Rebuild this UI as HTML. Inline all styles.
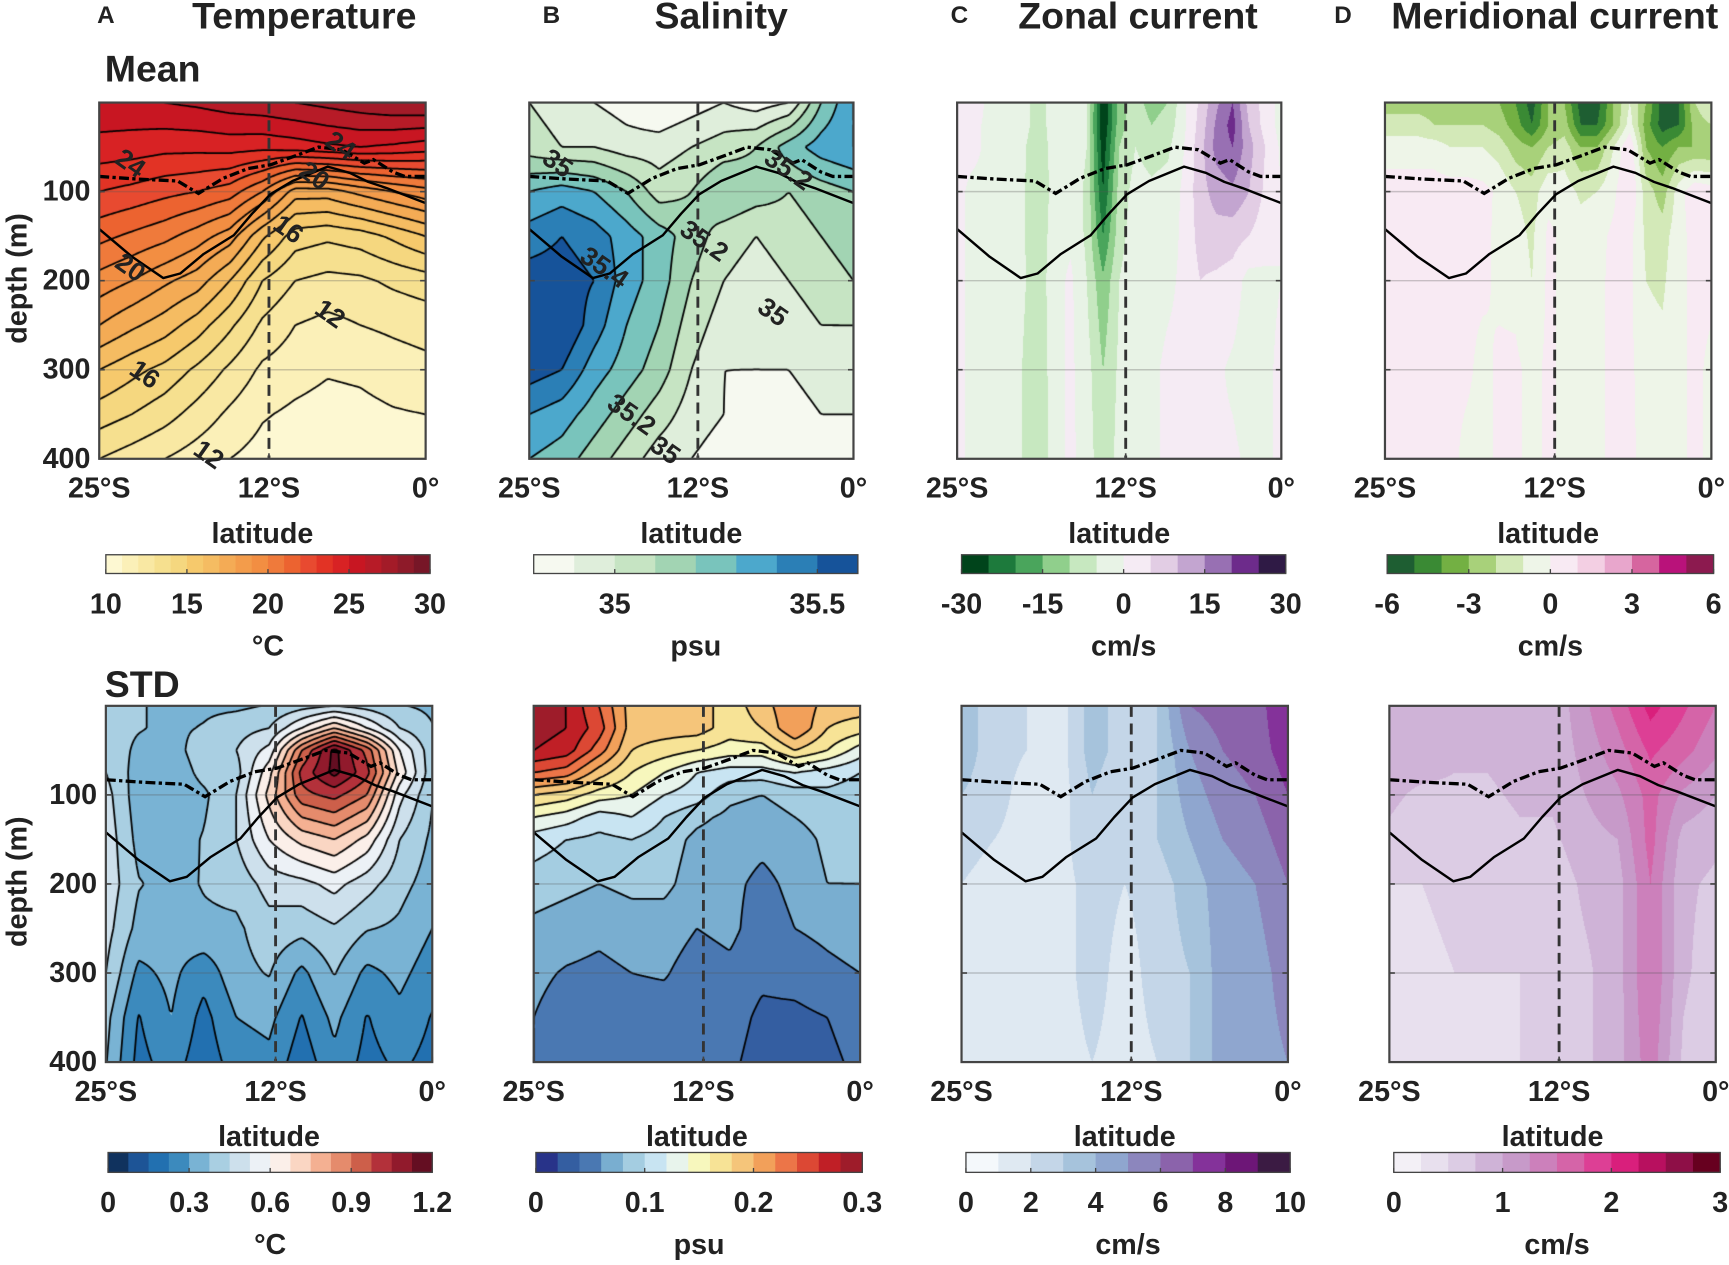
<!DOCTYPE html>
<html><head><meta charset="utf-8"><title>Ocean sections</title>
<style>
html,body{margin:0;padding:0;background:#fff;}
#wrap{position:relative;width:1729px;height:1265px;overflow:hidden;}
#cv{position:absolute;left:0;top:0;}
#sv{position:absolute;left:0;top:0;}
text{font-family:"Liberation Sans",Arial,sans-serif;fill:#222;}
</style></head>
<body>
<div id="wrap">
<canvas id="cv" width="1729" height="1265"></canvas>
<svg id="sv" width="1729" height="1265" viewBox="0 0 1568 1147" preserveAspectRatio="none"></svg>
</div>
<script>
// ---------- shared grids ----------
const lat11 = [-25,-22.5,-20,-17.5,-15,-12.5,-10,-7.5,-5,-2.5,0];
const lat21 = [-25,-23.75,-22.5,-21.25,-20,-18.75,-17.5,-16.25,-15,-13.75,-12.5,-11.25,-10,-8.75,-7.5,-6.25,-5,-3.75,-2.5,-1.25,0];
const depthT = [0,50,100,150,200,250,300,350,400];
const depthUV = [0,25,50,100,150,200,300,400];
const depthStdT = [0,25,50,75,100,150,200,250,300,350,400];
const depthStdS = [0,25,50,75,100,125,150,200,250,300,350,400];
const depth7 = [0,50,100,150,200,300,400];

// ---------- Mean temperature (°C) ----------
const tempMean = [
 [25.8,25.8,26,26.2,26.5,26.7,27,27.3,27.6,27.9,28],
 [24.6,24.5,24.3,24.3,24.4,24.3,24.5,24.8,25,24.8,24.5],
 [23,22.7,22.3,22,21.5,20,17.5,17.5,18.3,19,19.6],
 [21.3,20.8,20.3,19.5,18.5,16.2,14.5,14.2,14.5,15.2,16],
 [19.6,19,18.2,17.5,16,14,13,12.7,12.8,13.2,13.5],
 [18,17.2,16.5,15.5,14.2,12.8,12,11.7,12,12.2,12.4],
 [16,15.3,14.7,13.8,12.8,11.8,11.4,11.1,11.2,11.5,11.7],
 [14.5,14,13.4,12.6,11.8,11.1,10.8,10.6,10.7,10.9,11],
 [13,12.5,12,11.5,11,10.6,10.3,10.1,10.3,10.5,10.6]];
const tempColors = ['#fdf8d2','#fbf0b8','#f9e8a3','#f6e08f','#f5d77f','#f6c96c','#f5bc62','#f4ab55','#f39c4b','#f28e42','#ef7a3b','#ec6330','#e84a30','#e23325','#d82224','#c81622','#b71b27','#a31b28','#8e1a29','#771627'];
const tempTicks = [10,15,20,25,30];

// ---------- Mean salinity (psu) ----------
const salMean = [
 [35.0,34.95,34.9,34.85,34.8,34.85,34.9,34.85,34.9,35.2,35.4],
 [35.05,35.0,35.0,34.95,34.95,35.0,35.05,35.1,35.25,35.35,35.4],
 [35.3,35.35,35.3,35.2,35.05,35.1,35.2,35.15,35.1,35.15,35.2],
 [35.45,35.5,35.45,35.35,35.25,35.15,35.05,35.0,35.05,35.1,35.15],
 [35.55,35.55,35.5,35.35,35.25,35.1,35.0,34.95,35.0,35.05,35.1],
 [35.55,35.6,35.45,35.3,35.2,35.05,34.95,34.9,34.95,35.0,35.0],
 [35.55,35.5,35.35,35.25,35.15,35.0,34.9,34.9,34.9,34.95,34.95],
 [35.4,35.35,35.25,35.15,35.05,34.95,34.9,34.85,34.85,34.9,34.9],
 [35.3,35.25,35.15,35.05,34.95,34.9,34.85,34.82,34.82,34.85,34.85]];
const salColors = ['#f6f9f0','#dfeedb','#c6e4c3','#a2d4b3','#79c4bc','#4ca8cc','#2b7fb6','#16539a'];
const salTicks = [35,35.5];

// ---------- Mean zonal current (cm/s) ----------
const uMean = [
 [2,2,-1,-1,-3,-7,-3,-2,-4,-30,-12,-8,-12,-10,-1,6,14,20,8,3,-2],
 [2,1,-1,-1,-3,-7,-3,-2,-5,-30,-12,-7,-10,-8,-1,7,16,22,10,3,-2],
 [1,1,-1,-1,-4,-8,-3,-2,-5,-28,-10,-5,-7,-6,0,8,17,20,12,5,-1],
 [1,-1,-1,-1,-4,-9,-3,-2,-6,-25,-8,-3,-4,-3,1,8,12,14,10,4,0],
 [1,-1,-1,-1,-4,-9,-2,-1,-6,-20,-7,-2,-3,-2,1,7,8,7,5,2,0],
 [1,-1,-1,-1,-4,-8,-2,1,-5,-14,-5,-1,-2,-1,1,5,4,3,-2,-1,0],
 [1,-1,-1,-1,-5,-9,-2,1,-3,-10,-4,-1,-1,1,1,2,1,-1,-3,-1,1],
 [1,-1,-1,-1,-5,-10,-2,1,-2,-9,-3,-1,-1,1,1,1,1,1,-1,-1,1]];
const uColors = ['#00441b','#1d7a3c','#4aa55c','#90cf8c','#c7e8c0','#e8f3e6','#f5ebf4','#e2cde4','#c3a5d0','#9870b3','#6d2b8b','#2f1a45'];
const uTicks = [-30,-15,0,15,30];

// ---------- Mean meridional current (cm/s) ----------
const vMean = [
 [-2.5,-2.5,-2.5,-2.5,-3,-3,-2.5,-3,-4,-5.5,-3,-3,-5.5,-5.5,-3,-1,-3,-5.5,-5,-2,-1],
 [-1.5,-1.5,-1.5,-2,-2,-2,-2,-2.5,-3.5,-5,-3,-2.5,-5,-5,-3,-0.5,-3.5,-5.5,-5,-2.5,-2],
 [-0.5,-0.5,-0.5,-0.5,-1,-1,-1,-1.5,-2.5,-3,-2,-1.5,-3,-3,-1,1,-3,-4,-3,-3,-3],
 [0.5,0.5,0.5,0.5,0.5,0.5,0.3,-0.2,-1,-1.5,-0.3,-0.5,-1.2,-1,-0.2,1,-1.5,-2.5,-0.5,0.8,0.5],
 [0.5,0.5,0.5,0.5,0.5,0.3,0.2,-0.2,-0.5,-1.2,0.2,-0.2,-0.5,-0.3,0.2,0.3,-1.2,-1.5,-0.3,0.3,0.3],
 [0.5,0.5,0.5,0.3,0.3,0.2,0.2,-0.2,-0.3,-1,0.2,-0.2,-0.3,-0.2,0.2,0.2,-1,-1.2,-0.2,0.2,0.2],
 [0.5,0.5,0.5,0.3,0.3,0.2,-0.3,0.2,0.2,-0.3,0.2,-0.2,-0.2,-0.2,0.2,0.2,-0.5,-0.6,-0.2,0.2,-0.2],
 [0.5,0.5,0.5,0.3,0.3,-0.3,-0.3,0.2,0.2,-0.3,0.2,-0.2,-0.2,-0.2,0.2,0.2,-0.3,-0.3,-0.2,0.2,-0.2]];
const vColors = ['#1e5e32','#3a8a34','#73b043','#a8d17a','#d3e9b8','#eef5e8','#f8eaf3','#f3cfe3','#e8a6cc','#d6659f','#b9127a','#8c1a4f'];
const vTicks = [-6,-3,0,3,6];

// ---------- STD temperature ----------
const tempStd = [
 [.40,.38,.36,.36,.36,.38,.42,.45,.42,.38,.36],
 [.40,.38,.36,.38,.42,.45,.60,.75,.60,.45,.38],
 [.42,.36,.34,.42,.45,.55,.90,1.15,.95,.60,.40],
 [.45,.34,.32,.40,.42,.65,1.00,1.15,1.00,.65,.40],
 [.48,.33,.32,.36,.45,.70,.95,1.00,.90,.55,.38],
 [.50,.35,.34,.38,.45,.60,.70,.75,.65,.45,.36],
 [.50,.38,.35,.38,.40,.48,.50,.55,.48,.40,.34],
 [.48,.35,.33,.36,.36,.42,.40,.44,.38,.36,.30],
 [.45,.28,.32,.25,.35,.38,.28,.38,.28,.32,.26],
 [.40,.22,.30,.20,.30,.32,.22,.32,.22,.28,.22],
 [.38,.20,.26,.18,.26,.28,.18,.28,.20,.24,.20]];
const tempStdColors = ['#10325e','#1d5496','#2270b0','#3c8abd','#79b3d4','#a9cfe2','#cde0ec','#ecf1f6','#fbefe9','#fad6c3','#f4b092','#e58b6c','#cd5f4a','#b3313a','#911a2c','#640e22'];
const tempStdTicks = [0,0.3,0.6,0.9,1.2];

// ---------- STD salinity ----------
const salStd = [
 [.29,.28,.24,.19,.19,.19,.17,.19,.22,.19,.19],
 [.29,.28,.25,.19,.19,.19,.17,.18,.22,.18,.17],
 [.28,.27,.23,.18,.17,.16,.15,.15,.18,.16,.13],
 [.24,.23,.19,.16,.14,.12,.11,.11,.12,.11,.10],
 [.18,.17,.15,.14,.12,.11,.085,.08,.09,.095,.09],
 [.14,.13,.11,.12,.10,.085,.075,.07,.08,.09,.088],
 [.11,.10,.095,.10,.09,.075,.07,.065,.07,.085,.085],
 [.09,.085,.08,.085,.085,.07,.065,.055,.065,.08,.08],
 [.075,.07,.065,.07,.07,.06,.065,.05,.06,.065,.07],
 [.065,.058,.055,.06,.062,.05,.055,.045,.048,.055,.06],
 [.06,.05,.045,.05,.05,.045,.05,.035,.035,.04,.05],
 [.06,.048,.045,.048,.045,.045,.045,.03,.03,.035,.045]];
const salStdColors = ['#283389','#345ea1','#4a78b2','#79aed0','#a4cde1','#c8e4f2','#e8f4ec','#f7f7bd','#f7e396','#f5c57a','#f2a05a','#ec7548','#dc4834','#c01f26','#9e1c2a'];
const salStdTicks = [0,0.1,0.2,0.3];

// ---------- STD zonal current ----------
const uStd = [
 [3.5,2.5,2,1.5,3.5,2.5,3,6,6.5,6.5,8],
 [3.5,2.5,2,1.5,3.5,2.5,3,5,6,6.5,7.5],
 [3,2.5,1.5,1.5,3,2,3,4.5,5.5,6,7],
 [2.5,2,1.5,1.5,3,2,3,4,5,5.5,6.5],
 [2,1.5,1.5,1.5,2.5,2,2.5,3.5,4.5,5,6],
 [1.5,1.5,1,1.5,2.5,1.5,2.5,3,4.5,4.5,5.5],
 [1.5,1.5,1,1.5,2,1.5,2,3,4.5,4.5,5]];
const uStdColors = ['#f4f8fb','#dfe9f2','#c4d6e8','#a6c3dc','#8fa6cf','#8c86bd','#8b63ab','#84329a','#6d1677','#3b1b43'];
const uStdTicks = [0,2,4,6,8,10];

// ---------- STD meridional current ----------
const vStd = [
 [1.0,1.0,0.9,0.9,0.9,0.8,1.2,1.6,2.1,1.8,1.5],
 [0.9,0.9,0.8,0.8,0.9,0.8,1.1,1.4,1.8,1.6,1.3],
 [0.8,0.7,0.7,0.7,0.8,0.8,1.0,1.2,1.6,1.2,1.0],
 [0.7,0.6,0.6,0.6,0.7,0.7,0.9,1.0,1.6,0.9,0.8],
 [0.5,0.5,0.6,0.6,0.6,0.6,0.8,0.9,1.5,0.8,0.7],
 [0.4,0.4,0.5,0.5,0.5,0.6,0.7,0.9,1.5,0.8,0.6],
 [0.3,0.4,0.5,0.4,0.5,0.6,0.7,0.9,1.4,0.7,0.5]];
const vStdColors = ['#f3f0f6','#e8e0ee','#dccce4','#cfb3d7','#c79ac9','#cc80bb','#d564a8','#dd3f95','#d91f7c','#b8105f','#8e0f47','#67001f'];
const vStdTicks = [0,1,2,3];

// ---------- overlay lines ----------
const mldLat = [-25,-22,-19,-17.4,-15.5,-13.6,-11.9,-10,-8.2,-6.4,-4.7,-4,-2.5,-1.6,0];
const mldDepth = [83,86,88,102,85,74,70,60,50,53,68,64,78,83,83];
const thermoLat = [-25,-22.5,-20.1,-18.8,-17,-14.7,-13.3,-11.9,-10.2,-7.5,-5.8,-4.4,-3,0];
const thermoDepth = [142,173,197,192,170,149,125,103,88,72,79,89,96,113];
const latTicks = [-25,-12,0];
const latTickLabels = ['25°S','12°S','0°'];
const depthTicks = [100,200,300,400];

// ---------- panel definitions ----------
const TOP = [93,416], BOT = [640,963];
const panels = [
 {id:'temp-mean', x:[90,386], y:TOP, lat:lat11, dep:depthT, v:tempMean, min:10, step:1, colors:tempColors, contour:true, yLabels:true,
  cb:{x:[96,390], y:[503,520], ticks:tempTicks, unit:'°C', fmt:v=>String(v)}},
 {id:'sal-mean', x:[480,774], y:TOP, lat:lat11, dep:depthT, v:salMean, min:34.8, step:0.1, colors:salColors, contour:true,
  cb:{x:[484,778], y:[503,520], ticks:salTicks, unit:'psu', fmt:v=>String(v)}},
 {id:'zonal-mean', x:[868,1162], y:TOP, lat:lat21, dep:depthUV, v:uMean, min:-30, step:5, colors:uColors, contour:false,
  cb:{x:[872,1166], y:[503,520], ticks:uTicks, unit:'cm/s', fmt:v=>String(v)}},
 {id:'meridional-mean', x:[1256,1552], y:TOP, lat:lat21, dep:depthUV, v:vMean, min:-6, step:1, colors:vColors, contour:false,
  cb:{x:[1258,1554], y:[503,520], ticks:vTicks, unit:'cm/s', fmt:v=>String(v)}},
 {id:'temp-std', x:[96,392], y:BOT, lat:lat11, dep:depthStdT, v:tempStd, min:0, step:0.075, colors:tempStdColors, contour:true, yLabels:true,
  cb:{x:[98,392], y:[1045,1063], ticks:tempStdTicks, unit:'°C', fmt:v=>String(v)}},
 {id:'sal-std', x:[484,780], y:BOT, lat:lat11, dep:depthStdS, v:salStd, min:0, step:0.02, colors:salStdColors, contour:true,
  cb:{x:[486,782], y:[1045,1063], ticks:salStdTicks, unit:'psu', fmt:v=>String(v)}},
 {id:'zonal-std', x:[872,1168], y:BOT, lat:lat11, dep:depth7, v:uStd, min:0, step:1, colors:uStdColors, contour:false,
  cb:{x:[876,1170], y:[1045,1063], ticks:uStdTicks, unit:'cm/s', fmt:v=>String(v)}},
 {id:'meridional-std', x:[1260,1556], y:BOT, lat:lat11, dep:depth7, v:vStd, min:0, step:0.25, colors:vStdColors, contour:false,
  cb:{x:[1264,1560], y:[1045,1063], ticks:vStdTicks, unit:'cm/s', fmt:v=>String(v)}}
];

const SX = 1729/1568, SY = 1265/1147;
function xScale(p, lat){ return p.x[0] + (lat+25)/25*(p.x[1]-p.x[0]); }
function yScale(p, d){ return p.y[0] + d/400*(p.y[1]-p.y[0]); }
function locate(arr, x){
  let i=0; while(i<arr.length-2 && x>arr[i+1]) i++;
  let t=(x-arr[i])/(arr[i+1]-arr[i]); t=Math.max(0,Math.min(1,t)); return [i,t];
}
function sample(p, lat, d){
  const [i,tx]=locate(p.lat,lat), [j,ty]=locate(p.dep,d);
  const v=p.v;
  const a=v[j][i]*(1-tx)+v[j][i+1]*tx, b=v[j+1][i]*(1-tx)+v[j+1][i+1]*tx;
  return a*(1-ty)+b*ty;
}
function hex(c){ return [parseInt(c.substr(1,2),16),parseInt(c.substr(3,2),16),parseInt(c.substr(5,2),16)]; }

// ---------- canvas fields ----------
const cv=document.getElementById('cv'), ctx=cv.getContext('2d');
ctx.fillStyle='#fff'; ctx.fillRect(0,0,1729,1265);
const img=ctx.getImageData(0,0,1729,1265), D=img.data;
panels.forEach(p=>{
  const rgb=p.colors.map(hex);
  const dx0=Math.round(p.x[0]*SX), dx1=Math.round(p.x[1]*SX), dy0=Math.round(p.y[0]*SY), dy1=Math.round(p.y[1]*SY);
  for(let py=dy0; py<dy1; py++){
    const d=((py+0.5)/SY-p.y[0])/(p.y[1]-p.y[0])*400;
    for(let px=dx0; px<dx1; px++){
      const lat=((px+0.5)/SX-p.x[0])/(p.x[1]-p.x[0])*25-25;
      const val=sample(p,lat,d);
      let b=Math.floor((val-p.min)/p.step+1e-9); b=Math.max(0,Math.min(rgb.length-1,b));
      const k=(py*1729+px)*4, c=rgb[b];
      D[k]=c[0]; D[k+1]=c[1]; D[k+2]=c[2]; D[k+3]=255;
    }
  }
});
ctx.putImageData(img,0,0);

// contours (marching squares)
ctx.save(); ctx.scale(SX,SY);
panels.filter(p=>p.contour).forEach(p=>{
  const res=2, nx=Math.ceil((p.x[1]-p.x[0])/res), ny=Math.ceil((p.y[1]-p.y[0])/res);
  const G=[];
  for(let j=0;j<=ny;j++){ const row=[]; const d=Math.min(400,j*res/(p.y[1]-p.y[0])*400);
    for(let i=0;i<=nx;i++){ const lat=Math.min(0,i*res/(p.x[1]-p.x[0])*25-25); row.push(sample(p,lat,d)); } G.push(row); }
  ctx.strokeStyle='#000'; ctx.lineWidth=1.6;
  ctx.save(); ctx.beginPath(); ctx.rect(p.x[0],p.y[0],p.x[1]-p.x[0],p.y[1]-p.y[0]); ctx.clip();
  ctx.beginPath();
  for(let L=1; L<p.colors.length; L++){
    const lev=p.min+L*p.step;
    for(let j=0;j<ny;j++) for(let i=0;i<nx;i++){
      const v0=G[j][i], v1=G[j][i+1], v2=G[j+1][i+1], v3=G[j+1][i];
      const X0=p.x[0]+i*res, Y0=p.y[0]+j*res;
      const pts=[];
      const edge=(a,b,ax,ay,bx,by)=>{ if((a<lev)!==(b<lev)){ const t=(lev-a)/(b-a); pts.push([ax+(bx-ax)*t, ay+(by-ay)*t]); } };
      edge(v0,v1,X0,Y0,X0+res,Y0);
      edge(v1,v2,X0+res,Y0,X0+res,Y0+res);
      edge(v2,v3,X0+res,Y0+res,X0,Y0+res);
      edge(v3,v0,X0,Y0+res,X0,Y0);
      for(let k=0;k+1<pts.length;k+=2){ ctx.moveTo(pts[k][0],pts[k][1]); ctx.lineTo(pts[k+1][0],pts[k+1][1]); }
    }
  }
  ctx.stroke(); ctx.restore();
});
ctx.restore();

// ---------- SVG overlay ----------
const NS='http://www.w3.org/2000/svg', svg=document.getElementById('sv');
function mk(tag, attrs, parent){ const e=document.createElementNS(NS,tag); for(const k in attrs) e.setAttribute(k,attrs[k]); (parent||svg).appendChild(e); return e; }
function txt(s, x, y, size, anchor, weight, parent){ const t=mk('text',{x:x,y:y,'font-size':size,'text-anchor':anchor||'middle','font-weight':weight||'bold','dominant-baseline':'central'},parent); t.textContent=s; return t; }

panels.forEach((p,idx)=>{
  const g=mk('g',{});
  
  
  depthTicks.slice(0,3).forEach(d=>{
    const l=mk('line',{x1:p.x[0],x2:p.x[1],y1:yScale(p,d),y2:yScale(p,d),stroke:'#555','stroke-opacity':0.3,'stroke-width':1.3},g);
    
    
  });
  const vl=mk('line',{x1:xScale(p,-12),x2:xScale(p,-12),y1:p.y[0],y2:p.y[1],stroke:'#333','stroke-width':2.6,'stroke-dasharray':'10 6'},g);
  
  
  const tp=thermoLat.map((la,i)=>(i?'L':'M')+xScale(p,la).toFixed(1)+','+yScale(p,thermoDepth[i]).toFixed(1)).join(' ');
  const tl=mk('path',{d:tp,fill:'none',stroke:'#000','stroke-width':2.2,'stroke-linejoin':'round'},g);
  
  
  const mp=mldLat.map((la,i)=>(i?'L':'M')+xScale(p,la).toFixed(1)+','+yScale(p,mldDepth[i]).toFixed(1)).join(' ');
  const ml=mk('path',{d:mp,fill:'none',stroke:'#000','stroke-width':3,'stroke-dasharray':'9 3 3 3'},g);
  
  
  const bx=mk('rect',{x:p.x[0],y:p.y[0],width:p.x[1]-p.x[0],height:p.y[1]-p.y[0],fill:'none',stroke:'#444','stroke-width':2},g);
  
  
  latTicks.forEach((la,i)=>{
    const X=xScale(p,la);
    mk('line',{x1:X,x2:X,y1:p.y[1],y2:p.y[1]-5,stroke:'#444','stroke-width':1.5},g);
    const t=txt(latTickLabels[i], X, p.y[1]+27, 26, 'middle', 'bold', g);
    
    
  });
  depthTicks.forEach(d=>{
    const Y=yScale(p,d);
    mk('line',{x1:p.x[0],x2:p.x[0]+5,y1:Y,y2:Y,stroke:'#444','stroke-width':1.5},g);
    mk('line',{x1:p.x[1],x2:p.x[1]-5,y1:Y,y2:Y,stroke:'#444','stroke-width':1.5},g);
    if(p.yLabels){
      const t=txt(String(d), p.x[0]-8, Y, 26, 'end', 'bold', g);
      
      
    }
  });
  const xt=txt('latitude', (p.x[0]+p.x[1])/2, p.y[1]+68, 26, 'middle', 'bold', g);
  
  
  if(p.yLabels){
    const yt=txt('depth (m)', 0, 0, 26, 'middle', 'bold', g);
    yt.setAttribute('transform','translate(16,'+((p.y[0]+p.y[1])/2-2)+') rotate(-90)');
    
    
  }
  const cb=p.cb, n=p.colors.length, w=(cb.x[1]-cb.x[0])/n;
  const cg=mk('g',{},g);
  
  
  p.colors.forEach((c,i)=>{
    const r=mk('rect',{x:cb.x[0]+i*w,y:cb.y[0],width:w+0.5,height:cb.y[1]-cb.y[0],fill:c},cg);
    
    
  });
  mk('rect',{x:cb.x[0],y:cb.y[0],width:cb.x[1]-cb.x[0],height:cb.y[1]-cb.y[0],fill:'none',stroke:'#444','stroke-width':1.2},cg);
  const vmax=p.min+n*p.step;
  cb.ticks.forEach(v=>{
    const X=cb.x[0]+(v-p.min)/(vmax-p.min)*(cb.x[1]-cb.x[0]);
    mk('line',{x1:X,x2:X,y1:cb.y[1],y2:cb.y[1]-4,stroke:'#444','stroke-width':1.2},cg);
    const t=txt(cb.fmt(v), X, cb.y[1]+28, 26, 'middle', 'bold', cg);
    
    
  });
  const ut=txt(cb.unit, (cb.x[0]+cb.x[1])/2, cb.y[1]+66, 26, 'middle', 'bold', cg);
  
  
});

[['A',96,'Temperature',276],['B',500,'Salinity',654],['C',870,'Zonal current',1032],['D',1218,'Meridional current',1410]].forEach(a=>{
  const l=txt(a[0], a[1], 14, 22, 'middle', 'bold');
  
  
  const t=txt(a[2], a[3], 14, 34, 'middle', 'bold');
  
  
});
const m=txt('Mean', 95, 62, 34, 'start', 'bold');


const s=txt('STD', 95, 620, 34, 'start', 'bold');



const tLabelText = ['24','24','20','16','12','20','16','12'];
const tLabelLat = [-22.6,-6.5,-8.5,-10.5,-7.3,-22.6,-21.5,-16.6];
const tLabelDep = [68,48,82,142,237,185,305,395];
const sLabelText = ['35','35.2','35.2','35.4','35','35.2','35'];
const sLabelLat = [-22.8,-5,-11.5,-19.2,-6.2,-17.1,-14.5];
const sLabelDep = [68,75,155,185,235,350,390];
function contourLabels(p, texts, lats, deps){
  texts.forEach((s,i)=>{
    const t=txt(s, xScale(p,lats[i]), yScale(p,deps[i]), 24, 'middle', 'bold');
    t.setAttribute('transform','rotate(35,'+xScale(p,lats[i])+','+yScale(p,deps[i])+')');
    
    
  });
}
contourLabels(panels[0], tLabelText, tLabelLat, tLabelDep);
contourLabels(panels[1], sLabelText, sLabelLat, sLabelDep);
</script>
</body></html>
